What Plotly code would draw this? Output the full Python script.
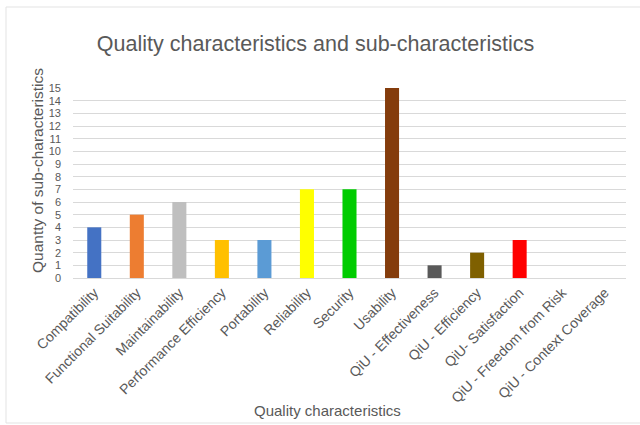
import plotly.graph_objects as go

categories = [
    "Compatibility", "Functional Suitability", "Maintainability",
    "Performance Efficiency", "Portability", "Reliability", "Security",
    "Usability", "QiU - Effectiveness", "QiU - Efficiency",
    "QiU- Satisfaction", "QiU - Freedom from Risk", "QiU - Context Coverage",
]
counts = [4, 5, 6, 3, 3, 7, 7, 15, 1, 2, 3, 0, 0]
bar_colors = [
    "#4472C4", "#ED7D31", "#BFBFBF", "#FFC000", "#5B9BD5", "#FFFF00",
    "#00CC00", "#843C0C", "#595959", "#7F6000", "#FF0000", "#A5A5A5", "#70AD47",
]
y_ticks = list(range(0, 16))

W, H = 640, 425
L, R, T, B = 73, 14, 88, 147
TXT = "#595959"
FONT = "Liberation Sans, Arial, sans-serif"
PW, PH = W - L - R, H - T - B

fig = go.Figure(
    go.Bar(
        x=categories,
        y=counts,
        marker=dict(color=bar_colors, line=dict(width=0)),
        width=0.33,
    )
)

fig.update_layout(
    width=W,
    height=H,
    margin=dict(l=L, r=R, t=T, b=B, pad=0),
    paper_bgcolor="white",
    plot_bgcolor="white",
    showlegend=False,
    font=dict(family=FONT, color=TXT, size=14),
    title=dict(
        text="Quality characteristics and sub-characteristics",
        x=315.5 / W, xanchor="center", y=1 - 43 / H, yanchor="middle",
        font=dict(size=21.5, color=TXT, family=FONT),
    ),
)

fig.update_xaxes(
    type="category",
    tickangle=-45,
    tickfont=dict(size=14, color=TXT),
    showgrid=False,
    showline=True,
    linecolor="#D9D9D9",
    linewidth=1,
    ticks="",
)
fig.update_yaxes(
    range=[0, 15],
    tickvals=y_ticks,
    ticktext=[str(v) for v in y_ticks],
    tickfont=dict(size=11, color=TXT),
    showgrid=True,
    gridcolor="#D9D9D9",
    gridwidth=1,
    zeroline=False,
    showline=False,
    ticks="",
    ticklabelstandoff=11,
)

# axis titles
fig.add_annotation(
    text="Quantty of sub-characteristics",
    xref="paper", yref="paper",
    x=(37 - L) / PW, y=(H - B - 171) / PH,
    xanchor="center", yanchor="middle",
    textangle=-90, showarrow=False,
    font=dict(size=15.5, color=TXT, family=FONT),
)
fig.add_annotation(
    text="Quality characteristics",
    xref="paper", yref="paper",
    x=(327 - L) / PW, y=-(410 - (H - B)) / PH,
    xanchor="center", yanchor="middle",
    showarrow=False,
    font=dict(size=15, color=TXT, family=FONT),
)

# chart frame
fig.add_shape(
    type="rect", xref="paper", yref="paper",
    x0=(6 - L) / PW, x1=(W + 4 - L) / PW,
    y0=-(423 - (H - B)) / PH, y1=1 + (T - 7) / PH,
    line=dict(color="#E3E3E3", width=1),
    fillcolor="rgba(0,0,0,0)",
    layer="below",
)

fig.write_html("out.html")
